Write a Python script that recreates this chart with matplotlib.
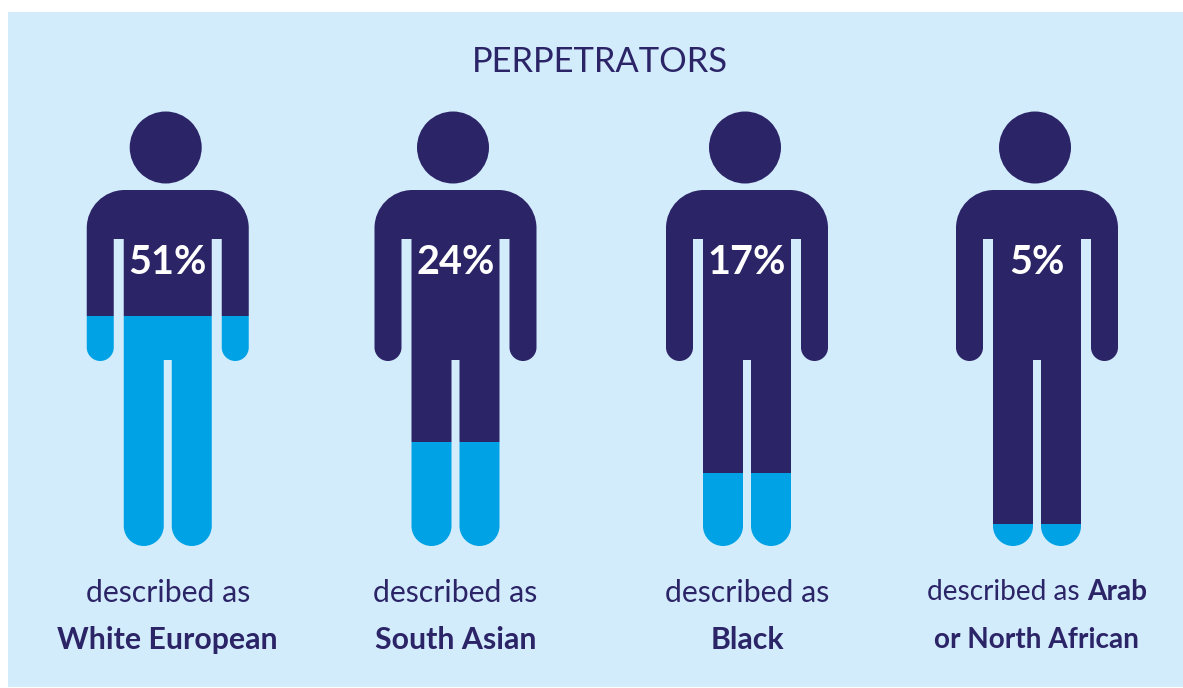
import matplotlib
matplotlib.use('Agg')
import matplotlib.pyplot as plt
from matplotlib.path import Path
from matplotlib.patches import PathPatch, Circle, Rectangle

# values
percents = ['51%', '24%', '17%', '5%']
fill_share = [0.530, 0.240, 0.168, 0.051]
line1 = ['described as', 'described as', 'described as', 'described as ']
line2 = ['White European', 'South Asian', 'Black', 'or North African']
line1_bold = ['', '', '', 'Arab']
body_centers = [167.75, 455.5, 747, 1037]
head_centers = [165.7, 453, 745, 1035]
label_sizes = [21.8, 21.8, 21.8, 20.2]

W, H = 1183, 688
DARK = '#2B2467'
LIGHT = '#00A2E6'
BG = '#D3ECFC'
FONT = 'Lato'

TOP = 111.5
BOTTOM = 546


def person_path(cx):
    # right half going down from the neck, then mirrored back up the left
    hw, sh, arm, gap, mid = 81, 38, 27, 10, 4
    y0, pit, hand, crotch = 190, 239, 361, 360
    k = 0.55
    hand_r = arm / 2
    out = hw - arm
    torso = out - gap
    leg_r = (torso - mid) / 2

    pts = [(0, y0), (hw - sh, y0)]
    codes = [Path.MOVETO, Path.LINETO]

    def curve(a, b, c):
        pts.extend([a, b, c])
        codes.extend([Path.CURVE4] * 3)

    def line(p):
        pts.append(p)
        codes.append(Path.LINETO)

    curve((hw - sh + k * sh, y0), (hw, y0 + sh - k * sh), (hw, y0 + sh))
    line((hw, hand - hand_r))
    curve((hw, hand - hand_r + k * hand_r), (out + hand_r + k * hand_r, hand), (out + hand_r, hand))
    curve((out + hand_r - k * hand_r, hand), (out, hand - hand_r + k * hand_r), (out, hand - hand_r))
    line((out, pit))
    line((torso, pit))
    line((torso, BOTTOM - leg_r))
    curve((torso, BOTTOM - leg_r + k * leg_r), (mid + leg_r + k * leg_r, BOTTOM), (mid + leg_r, BOTTOM))
    curve((mid + leg_r - k * leg_r, BOTTOM), (mid, BOTTOM - leg_r + k * leg_r), (mid, BOTTOM - leg_r))
    line((mid, crotch))

    mirror_codes = [Path.LINETO] + codes[1:][::-1]
    verts = pts + [(-x, y) for x, y in pts[::-1]]
    verts = [(cx + x, y) for x, y in verts]
    return Path(verts, codes + mirror_codes)


fig = plt.figure(figsize=(W / 100, H / 100), dpi=100, facecolor='white')
ax = fig.add_axes([0, 0, 1, 1])
ax.set_xlim(0, W)
ax.set_ylim(H, 0)
ax.axis('off')

ax.add_patch(Rectangle((8, 12), W - 8, H - 13, color=BG, lw=0, zorder=0))

ax.text(599.5, 62, 'PERPETRATORS', color=DARK, fontsize=24.8, family=FONT,
        fontweight='regular', ha='center', va='center')

total = BOTTOM - TOP
for i in range(4):
    cx = body_centers[i]
    size = label_sizes[i]
    ax.add_patch(Circle((head_centers[i], TOP + 36), 36, color=DARK, lw=0, zorder=2))

    outline = PathPatch(person_path(cx), transform=ax.transData, facecolor='none', lw=0)
    ax.add_patch(outline)
    filled = total * fill_share[i]
    bars = ax.bar([cx, cx], [BOTTOM - filled - 185, filled], bottom=[185, BOTTOM - filled],
                  width=170, color=[DARK, LIGHT], lw=0, zorder=2)
    for b in bars:
        b.set_clip_path(outline)

    ax.text(cx, 262, percents[i], color='white', fontsize=28.5, family=FONT,
            fontweight='bold', ha='center', va='center', zorder=3)

    if line1_bold[i]:
        ax.text(1087, 592, line1[i], color=DARK, fontsize=size, family=FONT,
                ha='right', va='center')
        ax.text(1087, 592, line1_bold[i], color=DARK, fontsize=size, family=FONT,
                fontweight='bold', ha='left', va='center')
    else:
        ax.text(cx, 593, line1[i], color=DARK, fontsize=size, family=FONT,
                ha='center', va='center')
    ax.text(cx, 640, line2[i], color=DARK, fontsize=size, family=FONT,
            fontweight='bold', ha='center', va='center')

fig.savefig('out.png', dpi=100, facecolor='white')
